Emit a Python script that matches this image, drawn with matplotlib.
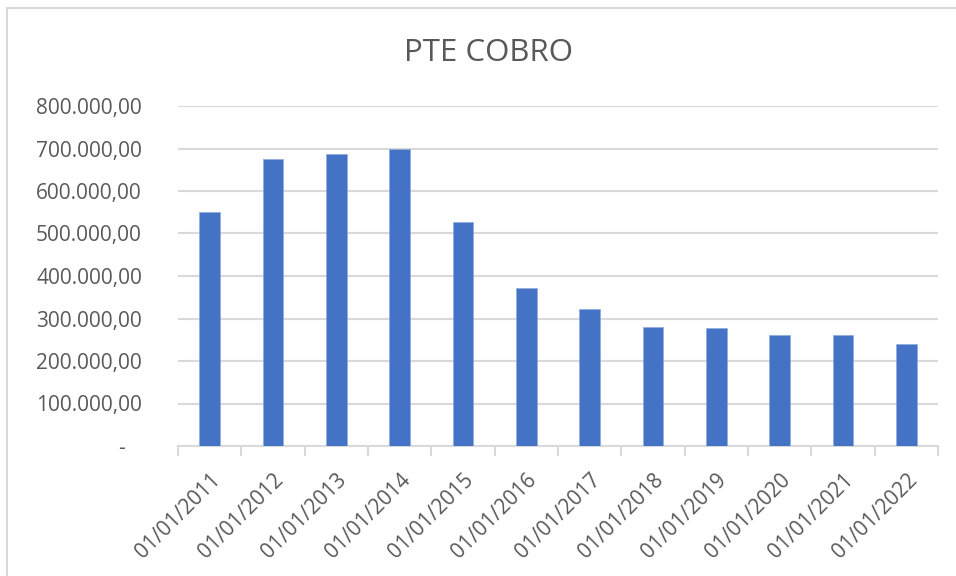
import matplotlib
matplotlib.use("Agg")
import matplotlib.pyplot as plt
from matplotlib.lines import Line2D
import numpy as np

categories = ["01/01/2011", "01/01/2012", "01/01/2013", "01/01/2014", "01/01/2015",
              "01/01/2016", "01/01/2017", "01/01/2018", "01/01/2019", "01/01/2020",
              "01/01/2021", "01/01/2022"]
values = [551000, 675000, 687000, 700000, 528000, 372000, 323000, 281000, 277000,
          262000, 262000, 241000]
yticks = [0, 100000, 200000, 300000, 400000, 500000, 600000, 700000, 800000]
ytick_labels = ["-   ", "100.000,00", "200.000,00", "300.000,00", "400.000,00",
                "500.000,00", "600.000,00", "700.000,00", "800.000,00"]
title = "PTE COBRO"

plt.rcParams['font.family'] = ['Open Sans', 'DejaVu Sans']
W, H = 956, 576
fig = plt.figure(figsize=(W / 100, H / 100), dpi=100)
ax = fig.add_axes([178 / W, 1 - 446 / H, (938 - 178) / W, (446 - 106) / H])

x = np.arange(len(categories))
ax.bar(x, values, width=0.33, color="#4472C4", edgecolor="#8faadc", linewidth=0.5, zorder=3)

ax.set_xlim(-0.5, len(categories) - 0.5)
ax.set_ylim(0, 800000)
ax.set_yticks(yticks)
ax.set_yticklabels(ytick_labels, fontsize=15, color="#595959")
ax.tick_params(axis='y', length=0, pad=26)
ax.grid(axis='y', color="#d9d9d9", linewidth=1.5, zorder=0)
ax.set_axisbelow(True)

ax.set_xticks(x)
ax.set_xticklabels(categories, rotation=45, ha='right', rotation_mode='anchor',
                   fontsize=15, color="#595959")
ax.tick_params(axis='x', length=0, pad=17)
ax.set_xticks(np.arange(-0.5, len(categories)), minor=True)
ax.tick_params(axis='x', which='minor', length=7, width=1.5, color="#d9d9d9")

for s in ['top', 'right', 'left']:
    ax.spines[s].set_visible(False)
ax.spines['bottom'].set_color("#d9d9d9")
ax.spines['bottom'].set_linewidth(1.5)

fig.text(488 / W, 1 - 53 / H, title, ha='center', va='center', fontsize=22.5, color="#595959")

# outer chart border (top and left visible)
fig.add_artist(Line2D([7 / W, 7 / W], [0, 1 - 8 / H], transform=fig.transFigure,
                      color="#d9d9d9", linewidth=1.5))
fig.add_artist(Line2D([7 / W, 1], [1 - 8 / H, 1 - 8 / H], transform=fig.transFigure,
                      color="#d9d9d9", linewidth=1.5))

fig.savefig("out.png", dpi=100, facecolor="white")
